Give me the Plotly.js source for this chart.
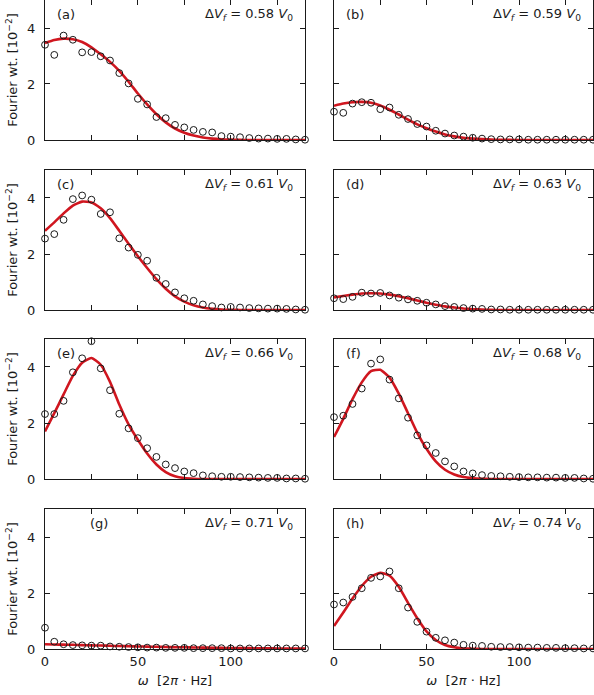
<!DOCTYPE html>
<html>
<head>
<meta charset="utf-8">
<script src="https://cdn.plot.ly/plotly-3.0.1.min.js"></script>
<style>
  body { margin: 0; background: #fff; }
  #plot { width: 594px; height: 695px; }
</style>
</head>
<body>
<div id="plot"></div>
<script>
// frequency grid (2pi Hz)
const omega = [0, 5, 10, 15, 20, 25, 30, 35, 40, 45, 50, 55, 60, 65, 70,
               75, 80, 85, 90, 95, 100, 105, 110, 115, 120, 125, 130, 135, 140]

const panel_labels = ['(a)', '(b)', '(c)', '(d)', '(e)', '(f)', '(g)', '(h)']
const delta_vf = ['0.58', '0.59', '0.61', '0.63', '0.66', '0.68', '0.71', '0.74']

// measured Fourier weights (x 10^-2)
const wt_a = [3.40, 3.04, 3.73, 3.58, 3.13, 3.14, 2.99, 2.84, 2.39, 2.02, 1.47, 1.27, 0.82, 0.78, 0.54,
              0.45, 0.36, 0.29, 0.27, 0.14, 0.12, 0.10, 0.07, 0.05, 0.05, 0.04, 0.04, 0.02, 0.01]
const wt_b = [1.01, 0.97, 1.30, 1.35, 1.33, 1.10, 1.16, 0.90, 0.75, 0.57, 0.48, 0.33, 0.23, 0.16, 0.12,
              0.08, 0.05, 0.03, 0.02, 0.02, 0.02, 0.01, 0.01, 0.01, 0.01, 0.01, 0.01, 0.01, 0.01]
const wt_c = [2.55, 2.71, 3.22, 3.96, 4.09, 3.94, 3.43, 3.49, 2.56, 2.23, 1.97, 1.76, 1.15, 0.93, 0.63,
              0.42, 0.33, 0.20, 0.14, 0.09, 0.11, 0.09, 0.07, 0.06, 0.05, 0.05, 0.04, 0.02, 0.01]
const wt_d = [0.42, 0.39, 0.47, 0.62, 0.59, 0.61, 0.52, 0.44, 0.38, 0.33, 0.26, 0.20, 0.14, 0.11, 0.07,
              0.05, 0.04, 0.02, 0.02, 0.01, 0.01, 0.01, 0.01, 0.01, 0.01, 0.01, 0.01, 0.01, 0.01]
const wt_e = [2.32, 2.32, 2.79, 3.81, 4.31, 4.92, 3.95, 3.17, 2.33, 1.81, 1.46, 1.10, 0.79, 0.52, 0.39,
              0.27, 0.21, 0.13, 0.10, 0.08, 0.08, 0.07, 0.06, 0.05, 0.04, 0.04, 0.02, 0.02, 0.01]
const wt_f = [2.21, 2.26, 2.68, 3.23, 4.12, 4.27, 3.55, 2.88, 2.19, 1.56, 1.20, 0.93, 0.63, 0.45, 0.27,
              0.20, 0.14, 0.11, 0.10, 0.08, 0.07, 0.06, 0.06, 0.05, 0.05, 0.04, 0.04, 0.02, 0.01]
const wt_g = [0.76, 0.26, 0.17, 0.14, 0.13, 0.12, 0.12, 0.09, 0.08, 0.07, 0.06, 0.05, 0.05, 0.04, 0.04,
              0.04, 0.03, 0.03, 0.03, 0.03, 0.02, 0.02, 0.02, 0.02, 0.02, 0.02, 0.02, 0.02, 0.02]
const wt_h = [1.59, 1.66, 1.86, 2.17, 2.54, 2.59, 2.77, 2.17, 1.48, 0.97, 0.62, 0.40, 0.31, 0.23, 0.15,
              0.12, 0.11, 0.08, 0.07, 0.07, 0.06, 0.05, 0.05, 0.04, 0.04, 0.03, 0.03, 0.02, 0.02]

const fit_a = [3.46, 3.57, 3.62, 3.60, 3.50, 3.31, 3.06, 2.79, 2.47, 2.08, 1.66, 1.27, 0.92, 0.63, 0.41,
               0.26, 0.16, 0.09, 0.05, 0.025, 0.012, 0.005, 0, 0, 0, 0, 0, 0, 0]
const fit_b = [1.22, 1.30, 1.35, 1.36, 1.33, 1.23, 1.08, 0.91, 0.73, 0.56, 0.42, 0.30, 0.20, 0.13, 0.08,
               0.05, 0.03, 0.015, 0.008, 0.003, 0, 0, 0, 0, 0, 0, 0, 0, 0]
const fit_c = [2.83, 3.13, 3.45, 3.73, 3.87, 3.84, 3.63, 3.28, 2.83, 2.37, 1.92, 1.50, 1.10, 0.76, 0.49,
               0.30, 0.17, 0.09, 0.045, 0.02, 0.008, 0, 0, 0, 0, 0, 0, 0, 0]
const fit_d = [0.45, 0.50, 0.55, 0.59, 0.60, 0.59, 0.55, 0.49, 0.42, 0.34, 0.26, 0.19, 0.13, 0.09, 0.055,
               0.03, 0.015, 0.007, 0, 0, 0, 0, 0, 0, 0, 0, 0, 0, 0]
const fit_e = [1.70, 2.35, 3.02, 3.68, 4.15, 4.32, 4.08, 3.47, 2.66, 1.95, 1.40, 0.91, 0.52, 0.25, 0.10,
               0.035, 0.01, 0, 0, 0, 0, 0, 0, 0, 0, 0, 0, 0, 0]
const fit_f = [1.50, 2.15, 2.85, 3.45, 3.85, 3.90, 3.62, 3.05, 2.35, 1.65, 1.08, 0.63, 0.33, 0.16, 0.07,
               0.03, 0.01, 0, 0, 0, 0, 0, 0, 0, 0, 0, 0, 0, 0]
const fit_g = [0.17, 0.16, 0.155, 0.15, 0.14, 0.13, 0.125, 0.115, 0.105, 0.10, 0.09, 0.085, 0.08, 0.07, 0.065,
               0.06, 0.055, 0.05, 0.045, 0.04, 0.035, 0.03, 0.03, 0.025, 0.025, 0.02, 0.02, 0.02, 0.015]
const fit_h = [0.82, 1.30, 1.80, 2.25, 2.58, 2.72, 2.62, 2.22, 1.65, 1.10, 0.63, 0.32, 0.14, 0.06, 0.02,
               0.01, 0, 0, 0, 0, 0, 0, 0, 0, 0, 0, 0, 0, 0]

const weights = [wt_a, wt_b, wt_c, wt_d, wt_e, wt_f, wt_g, wt_h]
const fits = [fit_a, fit_b, fit_c, fit_d, fit_e, fit_f, fit_g, fit_h]

const FONT = 'DejaVu Sans, Arial, sans-serif'
const INK = '#1a1a1a'
const RED = '#d0161f'

const x_domains = [[0, 0.4745], [0.5274, 1]]
const y_domains = [[0.7843, 1], [0.5223, 0.7381], [0.2619, 0.4777], [0, 0.2157]]

const traces = []
const layout = {
    width: 594,
    height: 695,
    margin: { l: 45, r: 1, t: 0, b: 46 },
    paper_bgcolor: '#fff',
    plot_bgcolor: '#fff',
    showlegend: false,
    font: { family: FONT, size: 13, color: INK },
    annotations: []
}

for (let i = 0; i < 8; i++) {
    const row = Math.floor(i / 2)
    const col = i % 2
    const n = i + 1
    const xa = 'x' + n
    const ya = 'y' + n

    traces.push({
        x: omega, y: fits[i], xaxis: xa, yaxis: ya,
        type: 'scatter', mode: 'lines',
        line: { color: RED, width: 2.6, shape: 'spline', smoothing: 0.5 },
        hoverinfo: 'skip', cliponaxis: false
    })
    traces.push({
        x: omega, y: weights[i], xaxis: xa, yaxis: ya,
        type: 'scatter', mode: 'markers',
        marker: { symbol: 'circle-open', size: 6.8, color: INK, line: { width: 1, color: INK } },
        cliponaxis: false
    })

    const bottom = row === 3
    const xaxis = {
        domain: x_domains[col], anchor: ya, range: [0, 140],
        tickvals: [0, 50, 100],
        minor: { tickvals: [25, 75, 125], ticks: 'inside', ticklen: 5, tickwidth: 1, tickcolor: INK, showgrid: false },
        showticklabels: bottom,
        ticks: 'inside', ticklen: 5, tickwidth: 1, tickcolor: INK,
        showline: true, linecolor: INK, linewidth: 1, mirror: 'ticks',
        showgrid: false, zeroline: false,
        tickfont: { size: 13 }
    }
    if (bottom) {
        xaxis.title = { text: '<i>ω</i>  [2<i>π</i> · Hz]', font: { size: 13 }, standoff: 8 }
    }
    layout['xaxis' + n] = xaxis

    const yaxis = {
        domain: y_domains[row], anchor: xa, range: [0, 5],
        tickvals: [0, 2, 4],
        showticklabels: col === 0,
        ticks: 'inside', ticklen: 5, tickwidth: 1, tickcolor: INK,
        showline: true, linecolor: INK, linewidth: 1, mirror: 'ticks',
        showgrid: false, zeroline: false,
        ticklabelstandoff: 6,
        tickfont: { size: 13 }
    }
    if (col === 0) {
        yaxis.title = { text: 'Fourier wt. [10<sup>−2</sup>]', font: { size: 13 }, standoff: 6 }
    }
    layout['yaxis' + n] = yaxis

    layout.annotations.push({
        xref: xa + ' domain', yref: ya + ' domain',
        x: i === 6 ? 0.165 : 0.038, y: 0.893,
        xanchor: 'left', yanchor: 'middle',
        text: panel_labels[i], showarrow: false,
        font: { size: 13, color: INK }
    })
    layout.annotations.push({
        xref: xa + ' domain', yref: ya + ' domain',
        x: 0.96, y: 0.893,
        xanchor: 'right', yanchor: 'middle',
        text: 'Δ<i>V<sub>f</sub></i> = ' + delta_vf[i] + ' <i>V</i><sub>0</sub>',
        showarrow: false,
        font: { size: 13, color: INK }
    })
}

Plotly.newPlot('plot', traces, layout, { staticPlot: true })
</script>
</body>
</html>
